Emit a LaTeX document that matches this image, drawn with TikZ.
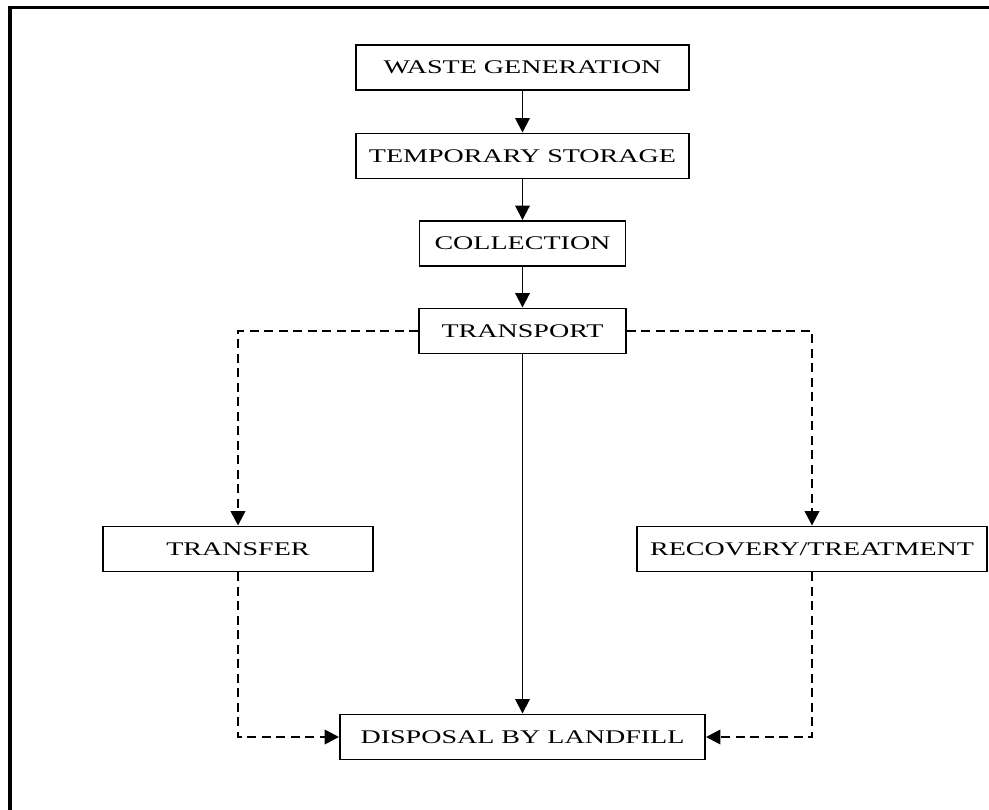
\documentclass[tikz,border=0pt]{standalone}
\usepackage{fontspec}
\setmainfont{Liberation Serif}[FakeStretch=1.45]
\usepackage{tikz}
\usetikzlibrary{arrows.meta, positioning, calc}

\begin{document}
\begin{tikzpicture}[
    stage/.style={draw, line width=1.1pt, minimum height=0.9cm, inner sep=0pt,
      font=\fontsize{11}{13}\selectfont},
    flow/.style={line width=1.1pt, -{Triangle[length=2.9mm, width=2.9mm]}},
    side/.style={line width=1.4pt, dash pattern=on 1.8mm off 1.1mm},
    sidearrow/.style={side, -{Triangle[length=2.9mm, width=2.9mm]}}
  ]
  \clip (0,0) rectangle (19.78,-16.2);
  % Rahmen
  \draw[line width=2.2pt] (0.2,-17) -- (0.2,-0.15) -- (21,-0.15);

  % Hauptkette
  \node[stage, minimum width=6.66cm] (gen)   at (10.45,-1.35)  {WASTE GENERATION};
  \node[stage, minimum width=6.66cm] (store) at (10.45,-3.12)  {TEMPORARY STORAGE};
  \node[stage, minimum width=4.12cm] (coll)  at (10.45,-4.87)  {COLLECTION};
  \node[stage, minimum width=4.14cm] (trans) at (10.45,-6.62)  {TRANSPORT};
  \node[stage, minimum width=7.3cm]  (disp)  at (10.45,-14.74) {DISPOSAL BY LANDFILL};

  % Seitenzweige
  \node[stage, minimum width=5.4cm]  (xfer)  at (4.76,-10.98)  {TRANSFER};
  \node[stage, minimum width=7.0cm]  (recov) at (16.24,-10.98) {RECOVERY/TREATMENT};

  \draw[flow] (gen) -- (store);
  \draw[flow] (store) -- (coll);
  \draw[flow] (coll) -- (trans);
  \draw[flow] (trans) -- (disp);

  \draw[sidearrow] (trans.west) -| (xfer.north);
  \draw[sidearrow] (trans.east) -| (recov.north);
  \draw[sidearrow] (xfer.south) |- (disp.west);
  \draw[sidearrow] (recov.south) |- (disp.east);
\end{tikzpicture}
\end{document}
